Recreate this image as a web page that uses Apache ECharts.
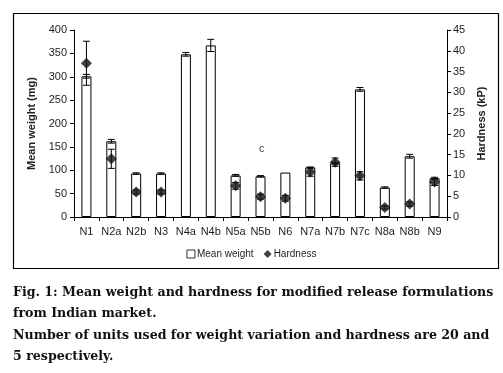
<!DOCTYPE html>
<html><head><meta charset="utf-8">
<script src="https://cdn.jsdelivr.net/npm/echarts@6/dist/echarts.min.js"></script>
<style>html,body{margin:0;padding:0;background:#fff}#c{width:503px;height:373px}</style>
</head><body><div id="c"></div>
<script>
var categories = ['N1','N2a','N2b','N3','N4a','N4b','N5a','N5b','N6','N7a','N7b','N7c','N8a','N8b','N9'];
var meanWeight = [301,162,93,93,348,367,89,87,95,106,115,273,63,130,83];
var weightErr  = [4,4,1.5,1.5,4,13,2,1.5,0,1,1,4,1.5,4,2];
var hardness   = [37,14,6,6,null,null,7.5,4.9,4.5,10.8,13.2,9.9,2.3,3.1,8.4];
var hardErr    = [5.3,2.3,0.5,0.5,null,null,0.8,0.6,0.7,1,1,1,0.4,0.5,0.8];
var leftTicks = {min:0,max:400,interval:50};
var rightTicks = {min:0,max:45,interval:5};

var chart = echarts.init(document.getElementById('c'));
var font = 'Liberation Sans, Arial, sans-serif';
var txt = '#1c1c28';

function errData(vals, errs){
  var d=[];
  for(var i=0;i<vals.length;i++){ if(vals[i]!=null && errs[i]) d.push([i, vals[i]-errs[i], vals[i]+errs[i]]); }
  return d;
}
function errRender(params, api){
  var x = api.value(0), lo = api.value(1), hi = api.value(2);
  var pl = api.coord([x, lo]), ph = api.coord([x, hi]);
  var w = 3.5;
  var st = {stroke:'#000', lineWidth:1};
  return {type:'group', children:[
    {type:'line', shape:{x1:pl[0],y1:pl[1],x2:ph[0],y2:ph[1]}, style:st},
    {type:'line', shape:{x1:pl[0]-w,y1:pl[1],x2:pl[0]+w,y2:pl[1]}, style:st},
    {type:'line', shape:{x1:ph[0]-w,y1:ph[1],x2:ph[0]+w,y2:ph[1]}, style:st}
  ]};
}

var captionFont = 'bold 12.6px "DejaVu Serif", "Liberation Serif", serif';
chart.setOption({
  animation:false,
  backgroundColor:'#fff',
  grid:{left:74,right:56,top:30,bottom:156,containLabel:false},
  legend:{
    bottom:109, left:'center', itemWidth:8, itemHeight:8, itemGap:10,
    textStyle:{fontFamily:font,fontSize:10,color:txt, padding:[0,0,0,-3]},
    data:[{name:'Mean weight',icon:'rect',itemStyle:{borderWidth:0.8}},{name:'Hardness',icon:'diamond'}]
  },
  xAxis:{
    type:'category', data:categories, boundaryGap:true,
    axisLine:{lineStyle:{color:'#000'}},
    axisTick:{show:true,length:4,lineStyle:{color:'#000'}},
    axisLabel:{fontFamily:font,fontSize:11,color:txt,margin:9,interval:0}
  },
  yAxis:[{
    type:'value', min:leftTicks.min, max:leftTicks.max, interval:leftTicks.interval,
    name:'Mean weight (mg)', nameLocation:'middle', nameGap:37, nameRotate:90,
    nameTextStyle:{fontFamily:font,fontSize:11,fontWeight:'bold',color:'#2a2018'},
    axisLine:{show:true,lineStyle:{color:'#000'}},
    axisTick:{show:true,length:4,lineStyle:{color:'#000'}},
    axisLabel:{fontFamily:font,fontSize:11,color:txt,margin:7},
    splitLine:{show:false}
  },{
    type:'value', min:rightTicks.min, max:rightTicks.max, interval:rightTicks.interval, position:'right',
    name:'Hardness (kP)', nameLocation:'middle', nameGap:25, nameRotate:90,
    nameTextStyle:{fontFamily:font,fontSize:11,fontWeight:'bold',color:'#1c1c28'},
    axisLine:{show:true,lineStyle:{color:'#000'}},
    axisTick:{show:true,length:4,inside:false,lineStyle:{color:'#000'}},
    axisLabel:{fontFamily:font,fontSize:11,color:txt,margin:6},
    splitLine:{show:false}
  }],
  series:[
    {name:'Mean weight', type:'bar', data:meanWeight, yAxisIndex:0, barWidth:10,
     itemStyle:{color:'#fff',borderColor:'#000',borderWidth:1}, z:2},
    {name:'werr', type:'custom', data:errData(meanWeight,weightErr), yAxisIndex:0,
     renderItem:errRender, encode:{x:0,y:[1,2]}, z:3, silent:true},
    {name:'herr', type:'custom', data:errData(hardness,hardErr), yAxisIndex:1,
     renderItem:errRender, encode:{x:0,y:[1,2]}, z:4, silent:true},
    {name:'Hardness', type:'scatter', data:hardness, yAxisIndex:1, symbol:'diamond', symbolSize:11,
     itemStyle:{color:'#111'}, z:5}
  ],
  graphic:[
    {type:'rect', shape:{x:13.5,y:13.5,width:485,height:255}, style:{fill:'none',stroke:'#000',lineWidth:1.2}, z:-1},
    {type:'text', left:259, top:143, style:{text:'c', font:'11px Liberation Sans, Arial, sans-serif', fill:'#3d4f80'}},
    {type:'text', left:13, top:286, style:{text:'Fig. 1: Mean weight and hardness for modified release formulations', font:captionFont, fill:'#111'}},
    {type:'text', left:13, top:307, style:{text:'from Indian market.', font:captionFont, fill:'#111'}},
    {type:'text', left:13, top:329, style:{text:'Number of units used for weight variation and hardness are 20 and', font:captionFont, fill:'#111'}},
    {type:'text', left:13, top:350, style:{text:'5 respectively.', font:captionFont, fill:'#111'}}
  ]
});
</script></body></html>
